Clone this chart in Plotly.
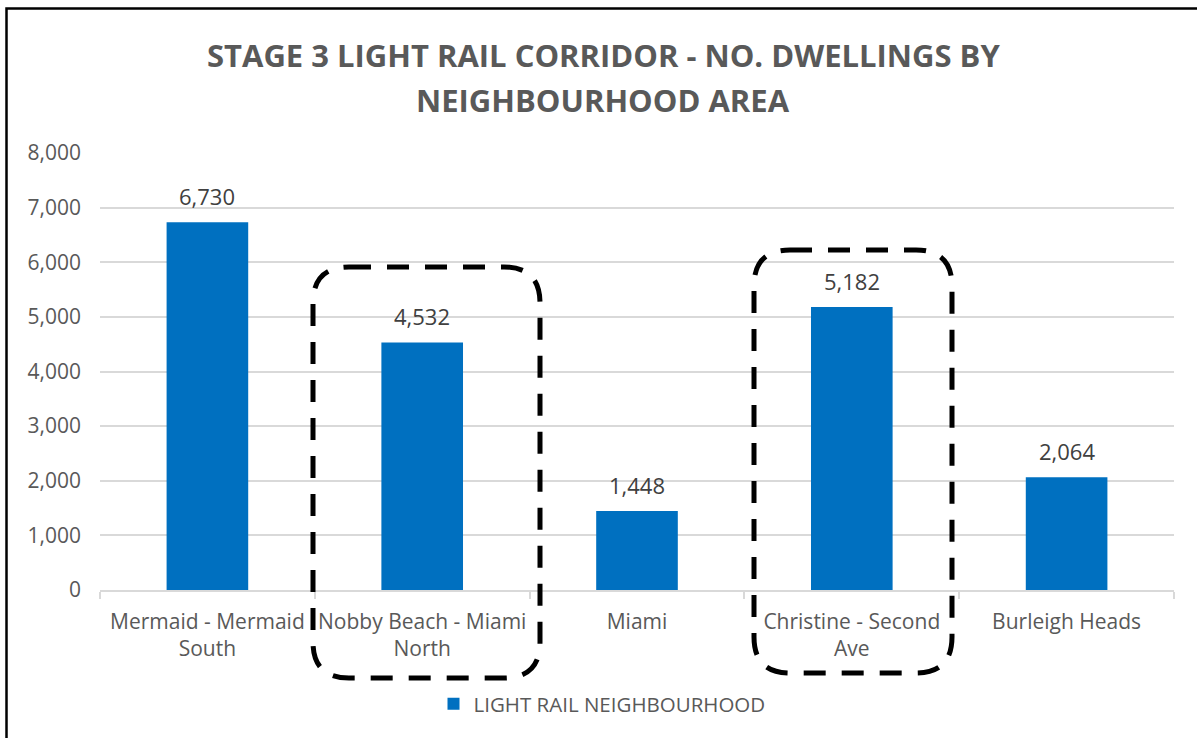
import plotly.graph_objects as go

# ---- data ----
categories = [
    "Mermaid - Mermaid<br>South",
    "Nobby Beach - Miami<br>North",
    "Miami",
    "Christine - Second<br>Ave",
    "Burleigh Heads",
]
dwellings = [6730, 4532, 1448, 5182, 2064]
series_name = "LIGHT RAIL NEIGHBOURHOOD"
title_lines = ["STAGE 3 LIGHT RAIL CORRIDOR - NO. DWELLINGS BY", "NEIGHBOURHOOD AREA"]
y_ticks = [0, 1000, 2000, 3000, 4000, 5000, 6000, 7000, 8000]
highlighted = [1, 3]  # indices of categories wrapped by dashed boxes

# ---- layout geometry (pixels) ----
W, H = 1197, 738
PL, PT, PR, PB = 100, 153, 1174, 590
FONT = "Open Sans"
TXT = "#595959"


def fx(px):
    return (px - PL) / (PR - PL)


def fy(py):
    return (PB - py) / (PB - PT)


def rounded_rect(x0, y0, x1, y1, r):
    rx = r / (PR - PL)
    ry = r / (PB - PT)
    X0, X1 = fx(x0), fx(x1)
    Y0, Y1 = fy(y0), fy(y1)  # Y0 top, Y1 bottom
    return (
        f"M{X0+rx},{Y0} L{X1-rx},{Y0} Q{X1},{Y0} {X1},{Y0-ry} "
        f"L{X1},{Y1+ry} Q{X1},{Y1} {X1-rx},{Y1} "
        f"L{X0+rx},{Y1} Q{X0},{Y1} {X0},{Y1+ry} "
        f"L{X0},{Y0-ry} Q{X0},{Y0} {X0+rx},{Y0} Z"
    )


fig = go.Figure()
fig.add_trace(
    go.Bar(
        x=categories,
        y=dwellings,
        name=series_name,
        marker=dict(color="#0070C0", line=dict(width=0)),
        showlegend=True,
        hoverinfo="x+y",
    )
)

annotations = []
for c, v in zip(categories, dwellings):
    annotations.append(
        dict(
            x=c, y=v, xref="x", yref="y",
            text=f"{v:,}", showarrow=False,
            yanchor="bottom", yshift=9,
            font=dict(family=FONT, size=22, color="#404040"),
        )
    )

title_y = [55, 100]
for t, py in zip(title_lines, title_y):
    annotations.append(
        dict(
            x=fx(603), y=fy(py), xref="paper", yref="paper",
            text=f"<b>{t}</b>", showarrow=False,
            xanchor="center", yanchor="middle",
            font=dict(family=FONT, size=31, color=TXT),
        )
    )

box_px = {1: (313, 267, 540, 678), 3: (754, 250, 952, 673)}
shapes = []
for i in highlighted:
    x0, y0, x1, y1 = box_px[i]
    shapes.append(
        dict(
            type="path", xref="paper", yref="paper",
            path=rounded_rect(x0, y0, x1, y1, 36),
            line=dict(color="black", width=5, dash="22px,16px"),
            fillcolor="rgba(0,0,0,0)", layer="above",
        )
    )

# outer chart border (right/bottom fall outside the image)
shapes.append(
    dict(
        type="rect", xref="paper", yref="paper",
        x0=fx(6.5), x1=fx(1230), y0=fy(8.5), y1=fy(770),
        line=dict(color="black", width=2.5), fillcolor="rgba(0,0,0,0)",
        layer="above",
    )
)

fig.update_layout(
    width=W, height=H,
    margin=dict(l=PL, r=W - PR, t=PT, b=H - PB, autoexpand=False),
    paper_bgcolor="white", plot_bgcolor="white",
    bargap=0.62,
    font=dict(family=FONT, size=21, color=TXT),
    showlegend=True,
    legend=dict(
        orientation="h", x=fx(602), xanchor="center",
        y=fy(704), yanchor="middle",
        font=dict(family=FONT, size=20.5, color=TXT),
        bgcolor="rgba(0,0,0,0)",
    ),
    annotations=annotations,
    shapes=shapes,
    xaxis=dict(
        type="category", showgrid=False, showline=True, linecolor="#D9D9D9",
        linewidth=1.5, ticks="outside", tickson="boundaries", ticklen=7,
        tickcolor="#D9D9D9", tickwidth=1.5, ticklabelstandoff=12,
        tickangle=0,
        tickfont=dict(family=FONT, size=21, color=TXT),
    ),
    yaxis=dict(
        range=[0, 8000], tickvals=y_ticks, tickformat=",d",
        showgrid=True, gridcolor="#D9D9D9", gridwidth=1.5, zeroline=False,
        showline=False, ticks="", ticklabelstandoff=18,
        tickfont=dict(family=FONT, size=21, color=TXT),
    ),
)

fig.write_html(
    "out.html",
    config={"displayModeBar": False},
    post_script="document.body.style.margin='0';document.body.style.overflow='hidden';",
)
